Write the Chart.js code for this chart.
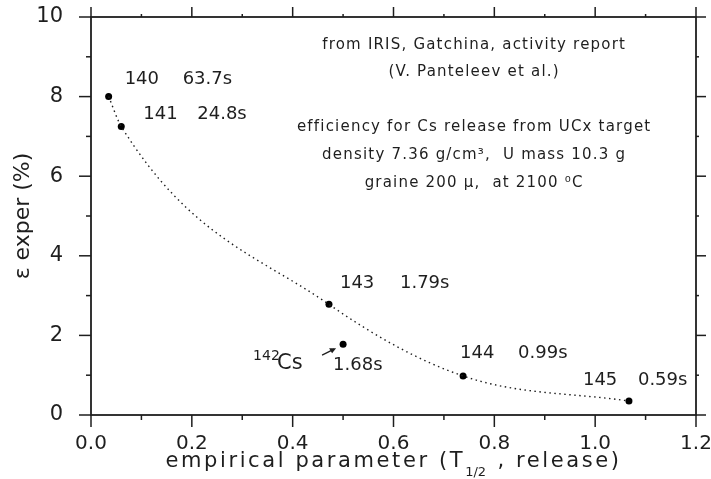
<!DOCTYPE html>
<html>
<head>
<meta charset="utf-8">
<script src="https://cdn.jsdelivr.net/npm/chart.js@4.4.4/dist/chart.umd.min.js"></script>
<style>
    html, body { margin: 0; padding: 0; background: #fff; }
    #wrap { width: 711px; height: 479px; position: relative; }
</style>
</head>
<body>
<div id="wrap"><canvas id="chart"></canvas></div>
<script>
// Cs isotopes: release parameter vs. measured efficiency
const isotopes = ["140", "141", "142", "143", "144", "145"];
const halfLives = ["63.7s", "24.8s", "1.68s", "1.79s", "0.99s", "0.59s"];
const releaseParam = [0.035, 0.06, 0.50, 0.472, 0.738, 1.067];
const efficiency = [8.0, 7.25, 1.78, 2.78, 0.98, 0.35];
const onCurve = [true, true, false, true, true, true];

const xMajorTicks = [0.0, 0.2, 0.4, 0.6, 0.8, 1.0, 1.2];
const xMinorTicks = [0.1, 0.3, 0.5, 0.7, 0.9, 1.1];
const yMajorTicks = [0, 2, 4, 6, 8, 10];
const yMinorTicks = [1, 3, 5, 7, 9];

const noteLines = [
    "from IRIS, Gatchina, activity report",
    "(V. Panteleev et al.)",
    "",
    "efficiency for Cs release from UCx target",
    "density 7.36 g/cm\u00b3,  U mass 10.3 g",
    "graine 200 \u03bc,  at 2100 \u2070C"
];

const INK = "#1e1e1e";
const FONT = "'DejaVu Sans', sans-serif";

// label offsets (px) from each point: [massX, massY, timeX]
const labelOffsets = [
    [16, -17, 74],
    [22, -12, 76],
    null,
    [11, -21, 71],
    [-3, -23, 55],
    [-46, -21, 9]
];

const allPoints = releaseParam.map((x, i) => ({ x, y: efficiency[i] }));
const curvePoints = allPoints.filter((_, i) => onCurve[i]).sort((a, b) => a.x - b.x);

const decor = {
    id: "decor",
    afterDatasetsDraw(chart) {
        const { ctx, chartArea: area } = chart;
        const xs = chart.scales.x;
        const ys = chart.scales.y;
        ctx.save();
        ctx.strokeStyle = INK;
        ctx.lineWidth = 1.8;
        ctx.strokeRect(area.left, area.top, area.right - area.left, area.bottom - area.top);

        const tick = (x1, y1, x2, y2) => {
            ctx.beginPath();
            ctx.moveTo(x1, y1);
            ctx.lineTo(x2, y2);
            ctx.stroke();
        };
        const drawX = (values, len) => values.forEach(v => {
            const px = xs.getPixelForValue(v);
            tick(px, area.bottom, px, area.bottom + len);
            tick(px, area.top, px, area.top - len + 2);
        });
        const drawY = (values, len) => values.forEach(v => {
            const py = ys.getPixelForValue(v);
            tick(area.left, py, area.left - len, py);
            tick(area.right, py, area.right + len - 2, py);
        });
        ctx.lineWidth = 1.5;
        drawX(xMajorTicks, 12);
        drawX(xMinorTicks, 5);
        drawY(yMajorTicks, 12);
        drawY(yMinorTicks, 5);

        // point labels
        ctx.fillStyle = INK;
        ctx.textBaseline = "middle";
        ctx.textAlign = "left";
        ctx.font = "18px " + FONT;
        isotopes.forEach((iso, i) => {
            const off = labelOffsets[i];
            if (!off) return;
            const px = xs.getPixelForValue(releaseParam[i]);
            const py = ys.getPixelForValue(efficiency[i]);
            ctx.fillText(iso, px + off[0], py + off[1]);
            ctx.fillText(halfLives[i], px + off[2], py + off[1]);
        });

        // 142Cs label with arrow
        const k = isotopes.indexOf("142");
        const cx = xs.getPixelForValue(releaseParam[k]);
        const cy = ys.getPixelForValue(efficiency[k]);
        ctx.font = "14px " + FONT;
        ctx.fillText(isotopes[k], cx - 90, cy + 12);
        ctx.font = "21px " + FONT;
        ctx.fillText("Cs", cx - 66, cy + 19);
        ctx.font = "18px " + FONT;
        ctx.fillText(halfLives[k], cx - 10, cy + 21);
        ctx.lineWidth = 1.3;
        tick(cx - 21, cy + 11, cx - 9, cy + 5);
        ctx.beginPath();
        ctx.moveTo(cx - 7, cy + 4);
        ctx.lineTo(cx - 14, cy + 4);
        ctx.lineTo(cx - 11, cy + 9);
        ctx.closePath();
        ctx.fill();

        // note block
        ctx.font = "15px " + FONT;
        ctx.letterSpacing = "1.2px";
        ctx.textAlign = "center";
        const nx = xs.getPixelForValue(0.76);
        const noteY = [9.3, 8.62, 0, 7.24, 6.53, 5.83];
        noteLines.forEach((line, i) => {
            if (line) ctx.fillText(line, nx, ys.getPixelForValue(noteY[i]));
        });

        // x axis title with subscript
        ctx.textAlign = "left";
        const partA = "empirical parameter (T";
        const sub = "1/2";
        const partB = " , release)";
        const mainSpacing = "2.6px";
        ctx.letterSpacing = mainSpacing;
        ctx.font = "21px " + FONT;
        const wA = ctx.measureText(partA).width;
        const wB = ctx.measureText(partB).width;
        ctx.letterSpacing = "0px";
        ctx.font = "13px " + FONT;
        const wS = ctx.measureText(sub).width + 2;
        const total = wA + wS + wB;
        const tx = (area.left + area.right) / 2 - total / 2;
        const ty = area.bottom + 47;
        ctx.fillText(sub, tx + wA, ty + 11);
        ctx.letterSpacing = mainSpacing;
        ctx.font = "21px " + FONT;
        ctx.fillText(partA, tx, ty);
        ctx.fillText(partB, tx + wA + wS, ty);
        ctx.restore();
    }
};

new Chart(document.getElementById("chart"), {
    type: "scatter",
    data: {
        datasets: [
            {
                label: "fit",
                data: curvePoints,
                showLine: true,
                borderColor: INK,
                borderWidth: 1.4,
                borderDash: [1.5, 3.5],
                cubicInterpolationMode: "monotone",
                pointRadius: 0
            },
            {
                label: "measured",
                data: allPoints,
                showLine: false,
                pointRadius: 3.5,
                pointBackgroundColor: "#000",
                pointBorderColor: "#000",
                pointBorderWidth: 0
            }
        ]
    },
    plugins: [decor],
    options: {
        responsive: true,
        maintainAspectRatio: false,
        animation: false,
        devicePixelRatio: 1,
        layout: { padding: { top: 17, right: 15, left: 0, bottom: 0 } },
        plugins: {
            legend: { display: false },
            tooltip: { enabled: false }
        },
        scales: {
            x: {
                type: "linear",
                min: 0,
                max: 1.2,
                afterBuildTicks(scale) {
                    scale.ticks = xMajorTicks.map(value => ({ value }));
                },
                afterFit(scale) {
                    scale.height = 64;
                    scale.paddingLeft = 0;
                    scale.paddingRight = 0;
                },
                grid: { display: false },
                border: { display: false },
                ticks: {
                    color: INK,
                    padding: 9,
                    maxRotation: 0,
                    font: { family: FONT, size: 20 },
                    callback: value => Number(value).toFixed(1)
                }
            },
            y: {
                type: "linear",
                min: 0,
                max: 10,
                afterBuildTicks(scale) {
                    scale.ticks = yMajorTicks.map(value => ({ value }));
                },
                afterFit(scale) {
                    scale.width = 91;
                    scale.paddingTop = 0;
                    scale.paddingBottom = 0;
                },
                grid: { display: false },
                border: { display: false },
                ticks: {
                    color: INK,
                    padding: 20,
                    font: { family: FONT, size: 21 }
                },
                title: {
                    display: true,
                    text: "\u03b5 exper (%)",
                    color: INK,
                    padding: { top: 10, bottom: 0 },
                    font: { family: FONT, size: 22 }
                }
            }
        }
    }
});
</script>
</body>
</html>
